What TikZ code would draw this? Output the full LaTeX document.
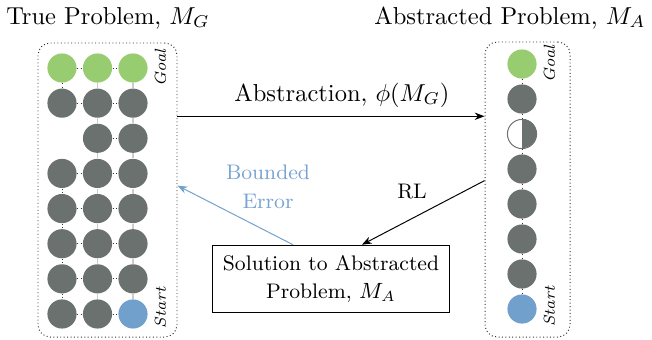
\documentclass[tikz,border=0pt]{standalone}
\usepackage{amsmath}
\usepackage{tikz}
\usetikzlibrary{arrows.meta, positioning, calc, fit}
\definecolor{goalgreen}{RGB}{152, 204, 112}
\definecolor{cellgray}{RGB}{107, 113, 111}
\definecolor{startblue}{RGB}{113, 160, 204}
\definecolor{errorblue}{RGB}{120, 163, 208}
\tikzset{
    cell/.style={circle, fill=cellgray, minimum size=11.9pt, inner sep=0pt},
    goalcell/.style={cell, fill=goalgreen},
    startcell/.style={cell, fill=startblue},
    hedge/.style={densely dotted, black!80, thin},
    vedge/.style={gray!40, line width=0.6pt},
    envbox/.style={draw, densely dotted, black!80, rounded corners=5pt, inner sep=0pt},
    tag/.style={font=\fontsize{6.5}{8}\selectfont\itshape, rotate=90, anchor=north, inner sep=1pt},
    line/.style={draw, -{Stealth[length=4pt, width=3pt]}, thin}
}

\begin{document}
\begin{tikzpicture}[
    x=0.01434cm, y=-0.01434cm,
    smalltext/.style={font=\fontsize{8.6}{11.8}\selectfont},
    solbox/.style={rectangle, draw, thin, smalltext, align=center, minimum width=96.7pt, minimum height=27.6pt, inner sep=0pt}
]
    \useasboundingbox (0,0) rectangle (652,339);

    % --- TRUE PROBLEM: grid of states ---
    \foreach \r in {1,...,8} {
        \foreach \c in {1,2,3} {
            \def\kind{cell}
            \ifnum\r=1 \def\kind{goalcell}\fi
            \ifnum\r\c=83 \def\kind{startcell}\fi
            \ifnum\r\c=31 \else
                \node[\kind] (g-\r-\c) at ({62+35.5*(\c-1)}, {68+35.14*(\r-1)}) {};
            \fi
        }
    }
    \foreach \r in {1,...,8} {
        \draw[hedge] (g-\r-2) -- (g-\r-3);
        \ifnum\r=3 \else \draw[hedge] (g-\r-1) -- (g-\r-2); \fi
    }
    \foreach \r [evaluate=\r as \s using int(\r+1)] in {1,...,7} {
        \draw[vedge] (g-\r-2) -- (g-\s-2);
        \draw[vedge] (g-\r-3) -- (g-\s-3);
        \ifnum\r=2 \else\ifnum\r=3 \else \draw[hedge] (g-\r-1) -- (g-\s-1); \fi\fi
    }
    \node[tag] (goal-g) at ([xshift=1.5pt]g-1-3.east) {Goal};
    \node[tag] (start-g) at ([xshift=1.5pt, yshift=2.5pt]g-8-3.east) {Start};
    \node[envbox, fit={(38,43) (177,337)}] (truebox) {};
    \node[anchor=base] (truetitle) at (108,24) {True Problem, $M_G$};

    % --- ABSTRACTED PROBLEM: chain of states ---
    \foreach \i in {1,...,8} {
        \def\kind{cell}
        \ifnum\i=1 \def\kind{goalcell}\fi
        \ifnum\i=8 \def\kind{startcell}\fi
        \node[\kind] (a-\i) at (522, {64+35*(\i-1)}) {};
    }
    \node[cell, fill=white, draw=cellgray, thin] (a-3) at (522, 134) {};
    \fill[cellgray] (a-3.north) arc[start angle=90, end angle=-90, radius=5.95pt] -- cycle;
    \foreach \i [evaluate=\i as \j using int(\i+1)] in {1,...,7}
        \draw[hedge] (a-\i) -- (a-\j);
    \node[tag] (goal-a) at ([xshift=1.5pt]a-1.east) {Goal};
    \node[tag] (start-a) at ([xshift=1.5pt, yshift=1pt]a-8.east) {Start};
    \node[envbox, fit={(485,42) (570,337)}] (absbox) {};
    \node[anchor=base east, inner sep=0pt] (abstitle) at (646,24) {Abstracted Problem, $M_A$};

    % --- SOLUTION AND CONNECTORS ---
    \node[solbox] (solbox) at (331,279) {Solution to Abstracted\\Problem, $M_A$};

    \coordinate (absout) at ($(truebox.north east)!0.25!(truebox.south east)$);
    \draw[line] (absout) -- (absout -| absbox.west);
    \node[anchor=base] (abslabel) at (342,101) {Abstraction, $\phi(M_G)$};

    \draw[line] ($(absbox.north west)!0.47!(absbox.south west)$) -- ($(solbox.north west)!0.63!(solbox.north east)$);
    \node[smalltext, anchor=base] (rllabel) at (412,198) {RL};

    \draw[line, startblue] ($(solbox.north west)!0.34!(solbox.north east)$) -- ($(truebox.north east)!0.485!(truebox.south east)$);
    \node[smalltext, align=center, text=errorblue] (errlabel) at (268,187) {Bounded\\Error};

\end{tikzpicture}
\end{document}
